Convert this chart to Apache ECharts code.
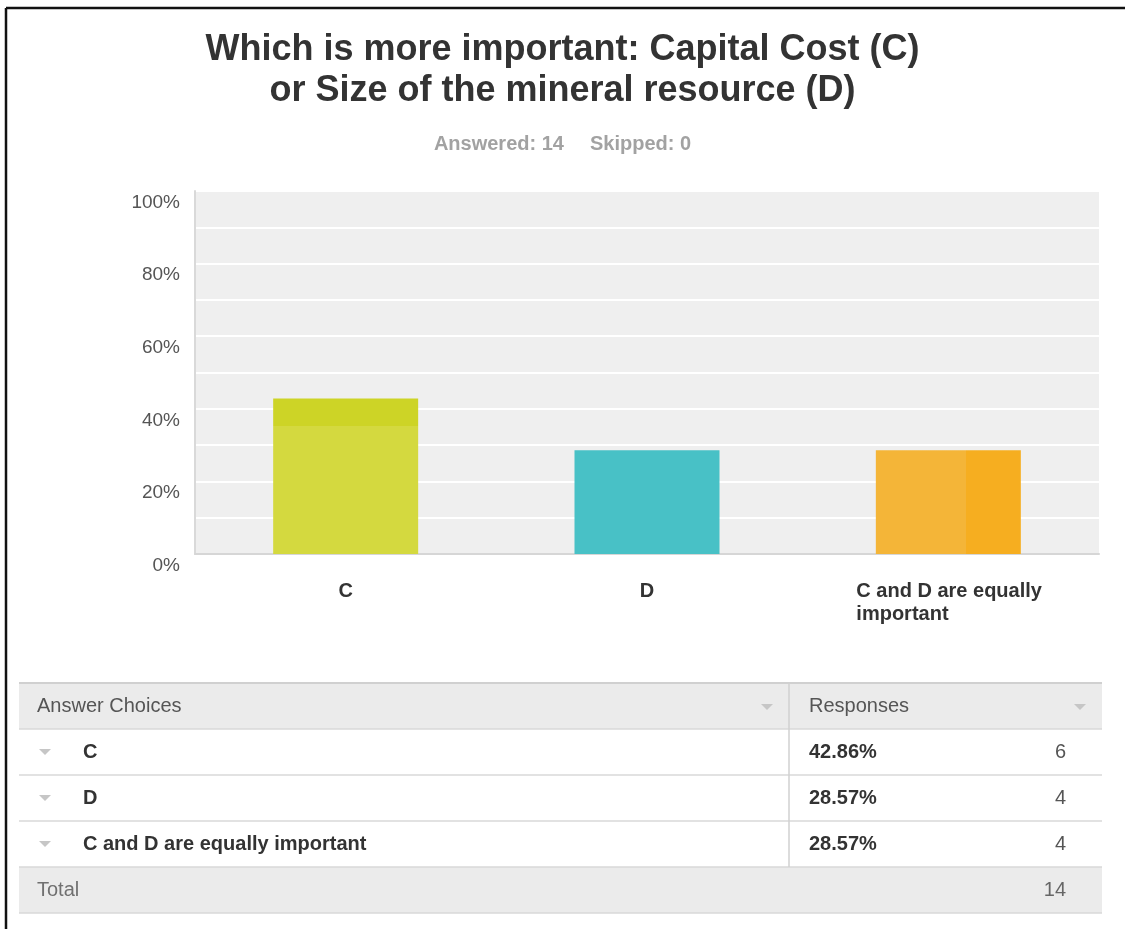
<!DOCTYPE html>
<html>
<head>
<meta charset="utf-8">
<script src="https://cdn.jsdelivr.net/npm/echarts@6/dist/echarts.min.js"></script>
<style>
  html, body { margin: 0; padding: 0; background: #ffffff; }
  #chart { width: 1125px; height: 929px; }
</style>
</head>
<body>
<div id="chart"></div>
<script>
// ---- survey data ----
const titleLines = ['Which is more important: Capital Cost (C)', 'or Size of the mineral resource (D)'];
const answeredCount = 14;
const skippedCount = 0;
const categories = ['C', 'D', 'C and D are equally important'];
const percents = [42.86, 28.57, 28.57];
const counts = [6, 4, 4];
const headerLabels = ['Answer Choices', 'Responses'];
const totalLabel = 'Total';

// ---- styling ----
const FONT = '"Liberation Sans", Arial, Helvetica, sans-serif';
const barFills = [
  { type: 'linear', x: 0, y: 0, x2: 0, y2: 1, colorStops: [
    { offset: 0, color: '#cdd426' }, { offset: 0.18, color: '#cdd426' },
    { offset: 0.18, color: '#d4d93f' }, { offset: 1, color: '#d4d93f' } ] },
  '#48c1c6',
  { type: 'linear', x: 0, y: 0, x2: 1, y2: 0, colorStops: [
    { offset: 0, color: '#f4b538' }, { offset: 0.62, color: '#f4b538' },
    { offset: 0.62, color: '#f6ae20' }, { offset: 1, color: '#f6ae20' } ] }
];

// wrap long category names onto several lines of at most maxChars characters
function wrapWords(text, maxChars) {
  const words = text.split(' ');
  const lines = [];
  let cur = '';
  words.forEach(w => {
    const next = cur ? cur + ' ' + w : w;
    if (next.length > maxChars && cur) { lines.push(cur); cur = w; }
    else cur = next;
  });
  if (cur) lines.push(cur);
  return lines;
}

// ---- response table drawn as graphic elements ----
const T = { left: 19, right: 1102, divider: 789, top: 683, rowH: 46,
            textX: 37, labelX: 83, pctX: 809, countX: 1066, arrowX: 45 };
const graphics = [];
const nRows = categories.length;

// outer frame
graphics.push({ type: 'line', silent: true, shape: { x1: 6, y1: 8, x2: 1125, y2: 8 }, style: { stroke: '#111', lineWidth: 2.5 } });
graphics.push({ type: 'line', silent: true, shape: { x1: 6, y1: 8, x2: 6, y2: 929 }, style: { stroke: '#111', lineWidth: 2.5 } });

// header and total row backgrounds
graphics.push({ type: 'rect', silent: true, shape: { x: T.left, y: T.top, width: T.right - T.left, height: T.rowH }, style: { fill: '#ebebeb' } });
graphics.push({ type: 'rect', silent: true, shape: { x: T.left, y: T.top + T.rowH * (nRows + 1), width: T.right - T.left, height: T.rowH }, style: { fill: '#ebebeb' } });

// horizontal rules
for (let i = 0; i <= nRows + 2; i++) {
  const y = T.top + T.rowH * i;
  graphics.push({ type: 'line', silent: true, shape: { x1: T.left, y1: y, x2: T.right, y2: y },
    style: { stroke: i === 0 ? '#d0d0d0' : '#d8d8d8', lineWidth: i === 0 ? 2 : 1.5 } });
}
// column divider
graphics.push({ type: 'line', silent: true, shape: { x1: T.divider, y1: T.top, x2: T.divider, y2: T.top + T.rowH * (nRows + 1) },
  style: { stroke: '#d0d0d0', lineWidth: 1.5 } });

function arrow(cx, cy) {
  return { type: 'polygon', silent: true, shape: { points: [[cx - 6, cy - 3], [cx + 6, cy - 3], [cx, cy + 3]] }, style: { fill: '#c6c6c6' } };
}
function txt(x, y, text, opts) {
  return { type: 'text', silent: true, x: x, y: y,
    style: Object.assign({ text: text, fontFamily: FONT, fontSize: 20, fill: '#555', align: 'left', verticalAlign: 'middle' }, opts || {}) };
}

// header
const headY = T.top + T.rowH / 2;
graphics.push(txt(T.textX, headY, headerLabels[0], { fill: '#555' }));
graphics.push(txt(T.pctX, headY, headerLabels[1], { fill: '#555' }));
graphics.push(arrow(767, headY + 1));
graphics.push(arrow(1080, headY + 1));

// answer rows
categories.forEach((c, i) => {
  const cy = T.top + T.rowH * (i + 1) + T.rowH / 2;
  graphics.push(arrow(T.arrowX, cy));
  graphics.push(txt(T.labelX, cy, c, { fontWeight: 'bold', fill: '#333' }));
  graphics.push(txt(T.pctX, cy, percents[i].toFixed(2) + '%', { fontWeight: 'bold', fill: '#333' }));
  graphics.push(txt(T.countX, cy, String(counts[i]), { align: 'right', fill: '#555' }));
});

// total row
const totY = T.top + T.rowH * (nRows + 1) + T.rowH / 2;
graphics.push(txt(T.textX, totY, totalLabel, { fill: '#707070' }));
graphics.push(txt(T.countX, totY, String(counts.reduce((a, b) => a + b, 0)), { align: 'right', fill: '#666' }));

const chart = echarts.init(document.getElementById('chart'), null, { renderer: 'canvas' });
chart.setOption({
  animation: false,
  backgroundColor: '#ffffff',
  title: [
    { text: titleLines.join('\n'), left: 'center', top: 30, padding: 0,
      textStyle: { fontFamily: FONT, fontSize: 36, fontWeight: 'bold', color: '#333', lineHeight: 41 } },
    { text: '{s|Answered: ' + answeredCount + '}{g|}{s|Skipped: ' + skippedCount + '}', left: 'center', top: 133, padding: 0,
      textStyle: { rich: {
        s: { fontFamily: FONT, fontSize: 20, fontWeight: 'bold', color: '#a2a2a2', lineHeight: 22 },
        g: { width: 26 } } } }
  ],
  grid: { left: 195, right: 26, top: 191, bottom: 375, show: true, backgroundColor: '#efefef', borderWidth: 0 },
  xAxis: {
    type: 'category',
    data: categories,
    axisLine: { show: true, lineStyle: { color: '#d6d6d6', width: 2 } },
    axisTick: { show: false },
    axisLabel: {
      interval: 0, margin: 26, verticalAlign: 'top',
      fontFamily: FONT, fontSize: 20, fontWeight: 'bold', color: '#333', lineHeight: 23,
      formatter: function (v) {
        const lines = wrapWords(v, 20);
        if (lines.length === 1) return v;
        return lines.map(l => '{w|' + l + '}').join('\n');
      },
      rich: { w: { width: 184, align: 'left', fontFamily: FONT, fontSize: 20, fontWeight: 'bold', color: '#333', lineHeight: 23 } }
    }
  },
  yAxis: {
    type: 'value', min: 0, max: 100, interval: 20,
    axisLine: { show: true, lineStyle: { color: '#d9d9d9', width: 2 } },
    axisTick: { show: false },
    axisLabel: { formatter: '{value}%', margin: 15, verticalAlign: 'top', lineHeight: 23,
      fontFamily: FONT, fontSize: 19, color: '#555' },
    splitLine: { show: true, lineStyle: { color: '#ffffff', width: 2 } },
    minorTick: { show: false, splitNumber: 2 },
    minorSplitLine: { show: true, lineStyle: { color: '#ffffff', width: 2 } }
  },
  series: [{
    type: 'bar',
    barWidth: 145,
    silent: true,
    data: percents.map((p, i) => ({ value: p, itemStyle: { color: barFills[i] } }))
  }],
  graphic: graphics
});
</script>
</body>
</html>
